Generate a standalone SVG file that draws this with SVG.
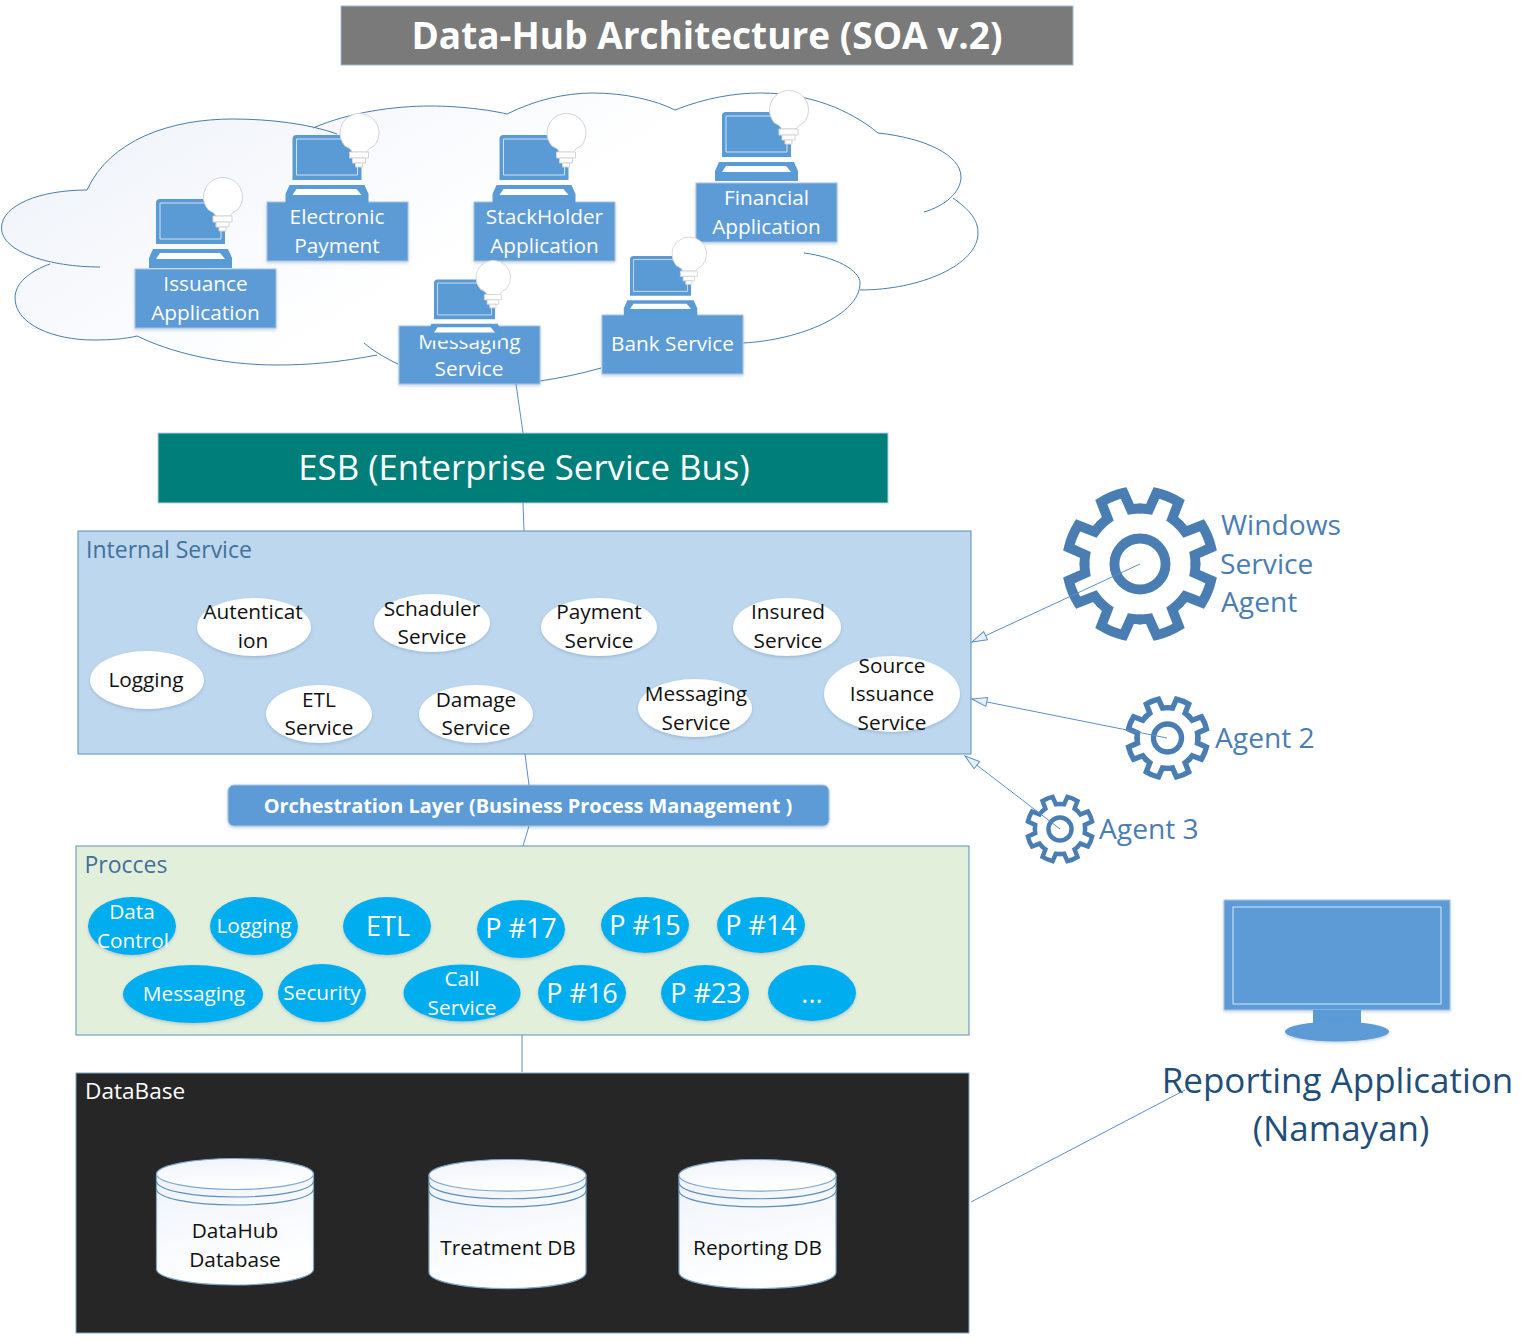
<svg xmlns="http://www.w3.org/2000/svg" xmlns:xlink="http://www.w3.org/1999/xlink" width="1539" height="1341" viewBox="0 0 1539 1341">
<style>
text{font-family:"Open Sans","Noto Sans","Liberation Sans",sans-serif;text-anchor:middle}
.w{fill:#fff;font-size:20.800px}
.k{fill:#111;font-size:20.800px}
.cw{fill:#fff;font-size:20.800px}
.big{fill:#fff;font-size:27px}
.lab{fill:#41719c;font-size:23px;text-anchor:start}
.agent{fill:#4a7eb2;font-size:28.200px;text-anchor:start}
.box{fill:#5b9bd5;stroke:#a9c5e2;stroke-width:1}
.wh{fill:#fff;filter:url(#sh)}
.blue{fill:#00aeef;filter:url(#sh)}
.cloud{fill:none;stroke:#4a7ea8;stroke-width:1}
.conn{fill:none;stroke:#5b8fc4;stroke-width:1}
.gearline{fill:none;stroke:#4a7eb2;stroke-linecap:round;stroke-linejoin:miter;stroke-width:13.500}
.cyl{fill:url(#cy);stroke:#7fa7cc;stroke-width:1.2}
.cl{fill:none;stroke:#5d8fb8;stroke-width:1.2}
</style>
<defs>
<linearGradient id="cg" x1="0" y1="0" x2="1" y2="0.5"><stop offset="0" stop-color="#ecf1f9"/><stop offset="0.6" stop-color="#fff"/></linearGradient>
<linearGradient id="cy" x1="0" y1="0" x2="0.3" y2="1"><stop offset="0" stop-color="#eef3fa"/><stop offset="1" stop-color="#fff"/></linearGradient>
<filter id="sh" x="-10%" y="-10%" width="120%" height="125%"><feDropShadow dx="0" dy="1.5" stdDeviation="1.5" flood-color="#5b7fa8" flood-opacity="0.35"/></filter>
<marker id="arr" markerUnits="userSpaceOnUse" markerWidth="18" markerHeight="12" refX="16" refY="6" orient="auto"><path d="M1 1.500 L16 6 L1 10.500 Z" fill="#e8f1fa" stroke="#5b8fc4" stroke-width="1"/></marker>
<g id="laptop">
<path d="M0 4Q0 0 4 0H69V45H0Z" fill="#5b9bd5"/>
<path d="M4 4H65V40H4Z" fill="none" stroke="#cfe2f3" stroke-width="1"/>
<path d="M-3 50H72L76 59V69H-7V59Z" fill="#5b9bd5"/>
<path d="M4 54H64L69 60H0Z" fill="#fff"/>
<g fill="#fff" stroke="#d4d4d4" stroke-width="1">
<path d="M60 17H74Q76 13 81.500 11A19.500 19.500 0 1 0 52.500 11Q58 13 60 17Z"/>
<path d="M57 17H76V23H57Z"/>
<path d="M60 23H73V28H60Z"/>
<path d="M63 28H70V32H63Z"/>
</g>
</g>
<g id="sector"><path d="M76 0A76 76 0 0 1 74.96 12.54L97.44 22.5A100 100 0 0 1 84.8 52.99L61.87 44.13A76 76 0 0 1 53.74 53.74"/></g>
<g id="gear" class="gearline">
<use xlink:href="#sector"/><use xlink:href="#sector" transform="rotate(45)"/><use xlink:href="#sector" transform="rotate(90)"/><use xlink:href="#sector" transform="rotate(135)"/><use xlink:href="#sector" transform="rotate(180)"/><use xlink:href="#sector" transform="rotate(225)"/><use xlink:href="#sector" transform="rotate(270)"/><use xlink:href="#sector" transform="rotate(315)"/>
<circle r="35"/>
</g>
<g id="cylhead">
<path class="cyl" d="M-78.500 15V110C-78.500 119 -44 126 0 126S78.500 119 78.500 110V15Z"/>
<ellipse class="cyl" cx="0" cy="15" rx="78.500" ry="15.500"/>
<path class="cl" d="M-78.500 22C-78.500 31 -44 38 0 38S78.500 31 78.500 22M-78.500 30C-78.500 39 -44 46 0 46S78.500 39 78.500 30"/>
</g>
</defs>

<rect width="1539" height="1341" fill="#fff"/>

<g id="cloud">
<path fill="url(#cg)" d="M87 190C110 140 170 119 233 119C270 119 300 122 313 128C350 112 395 106 430 106C460 106 490 110 507 114C535 100 565 93 593 93C625 93 655 100 675 110C705 98 735 93 760 93C810 93 850 110 878 133C925 138 960 150 960 177C960 185 958 192 953 198C970 210 977 220 977 233C977 265 920 290 860 290C840 325 790 340 743 343L600 368L540 381L398 364L377 355C340 362 310 365 277 365C220 365 170 352 137 336C120 339 105 340 93 340C45 340 15 325 15 298C15 283 30 272 50 264C20 257 1.500 245 1.500 228C1.500 205 40 190 87 190Z"/>
<path class="cloud" d="M87 190C110 140 170 119 233 119C270 119 310 124 337 134"/>
<path class="cloud" d="M87 190C40 190 1.500 205 1.500 228C1.500 252 50 267 100 267"/>
<path class="cloud" d="M50 264C30 271 15 283 15 298C15 325 55 340 93 340C110 340 125 339 137 336C170 352 220 365 277 365C320 365 350 360 377 355"/>
<path class="cloud" d="M364 343C372 350 385 358 398 364"/>
<path class="cloud" d="M313 128C350 112 395 106 430 106C460 106 490 110 507 114C535 100 565 93 593 93C625 93 655 100 675 110C705 98 735 93 760 93C810 93 850 110 878 133"/>
<path class="cloud" d="M878 133C925 138 961 155 961 177C961 192 945 206 924 212"/>
<path class="cloud" d="M953 198C970 210 978 220 978 233C978 265 920 290 860 290"/>
<path class="cloud" d="M804 253C835 257 860 270 860 283C860 315 800 340 743 343"/>
<path class="cloud" d="M601 368C580 374 560 378 540 381"/>
</g>

<g id="title"><rect x="341" y="6" width="732" height="59" fill="#7a7a7a" stroke="#9dbad8"/><text x="707" y="49" fill="#fff" font-size="37px" style="font-weight:700">Data-Hub Architecture (SOA v.2)</text></g>

<g id="issuance"><rect class="box" x="135" y="269" width="141" height="59" filter="url(#sh)"/><text class="w" x="205.500" y="291">Issuance</text><text class="w" x="205.500" y="320">Application</text><use xlink:href="#laptop" x="156" y="199"/></g>
<g id="electronic"><rect class="box" x="267" y="202" width="141" height="59" filter="url(#sh)"/><text class="w" x="337" y="224">Electronic</text><text class="w" x="337" y="253">Payment</text><use xlink:href="#laptop" x="292.500" y="135"/></g>
<g id="stackholder"><rect class="box" x="474" y="202" width="141" height="59" filter="url(#sh)"/><text class="w" x="544.500" y="224">StackHolder</text><text class="w" x="544.500" y="253">Application</text><use xlink:href="#laptop" x="499.500" y="135"/></g>
<g id="financial"><rect class="box" x="696" y="183" width="141" height="59" filter="url(#sh)"/><text class="w" x="766.500" y="205">Financial</text><text class="w" x="766.500" y="234">Application</text><use xlink:href="#laptop" x="722" y="112"/></g>
<g id="messaging-service"><rect class="box" x="399" y="326" width="141" height="58" filter="url(#sh)"/><text class="w" x="469.500" y="349">Messaging</text><text class="w" x="469" y="376">Service</text><use xlink:href="#laptop" transform="translate(434 279.500) scale(.885)"/></g>
<g id="bank"><rect class="box" x="602" y="315" width="141" height="59" filter="url(#sh)"/><text class="w" x="672.500" y="351">Bank Service</text><use xlink:href="#laptop" transform="translate(630 256) scale(.885)"/></g>

<g id="esb"><rect x="158" y="433" width="730" height="70" fill="#007e7a" stroke="#b7d0e6"/><text x="524" y="480" fill="#fff" font-size="34.800px">ESB (Enterprise Service Bus)</text></g>

<g id="internal-service"><rect x="78" y="531" width="893" height="223" fill="#bdd7ee" stroke="#5b8fb8"/><text class="lab" x="86" y="558">Internal Service</text></g>
<g id="logging-i"><ellipse class="wh" cx="147" cy="680" rx="57" ry="29"/><text class="k" x="146" y="687">Logging</text></g>
<g id="autenticat"><ellipse class="wh" cx="254" cy="627" rx="57" ry="29"/><text class="k" x="253" y="619">Autenticat</text><text class="k" x="253" y="648">ion</text></g>
<g id="schaduler"><ellipse class="wh" cx="432" cy="623" rx="58" ry="29"/><text class="k" x="432" y="616">Schaduler</text><text class="k" x="432" y="644">Service</text></g>
<g id="payment"><ellipse class="wh" cx="599" cy="627" rx="58" ry="29"/><text class="k" x="599" y="619">Payment</text><text class="k" x="599" y="648">Service</text></g>
<g id="insured"><ellipse class="wh" cx="787" cy="627" rx="54" ry="29"/><text class="k" x="788" y="619">Insured</text><text class="k" x="788" y="648">Service</text></g>
<g id="etl-i"><ellipse class="wh" cx="319" cy="714" rx="53" ry="29"/><text class="k" x="319" y="707">ETL</text><text class="k" x="319" y="735">Service</text></g>
<g id="damage"><ellipse class="wh" cx="476" cy="714" rx="57" ry="29"/><text class="k" x="476" y="707">Damage</text><text class="k" x="476" y="735">Service</text></g>
<g id="messaging-i"><ellipse class="wh" cx="695" cy="708" rx="57" ry="29"/><text class="k" x="696" y="701">Messaging</text><text class="k" x="696" y="730">Service</text></g>
<g id="source"><ellipse class="wh" cx="892" cy="694" rx="68" ry="38"/><text class="k" x="892" y="673">Source</text><text class="k" x="892" y="701">Issuance</text><text class="k" x="892" y="730">Service</text></g>

<g id="orchestration"><rect x="228" y="785" width="601" height="41" rx="6" fill="#5b9bd5" stroke="#a9c5e2" filter="url(#sh)"/><text x="528" y="813" fill="#fff" font-size="19.900px" style="font-weight:700">Orchestration Layer (Business Process Management )</text></g>

<g id="procces"><rect x="76" y="846" width="893" height="189" fill="#e2efda" stroke="#5b8fb8"/><text class="lab" x="84.500" y="873">Procces</text></g>
<g id="p-data"><ellipse class="blue" cx="132" cy="926" rx="44" ry="29"/><text class="cw" x="132" y="919">Data</text><text class="cw" x="133" y="948">Control</text></g>
<g id="p-logging"><ellipse class="blue" cx="254" cy="926" rx="44" ry="29"/><text class="cw" x="254" y="933">Logging</text></g>
<g id="p-etl"><ellipse class="blue" cx="387" cy="926" rx="44" ry="29"/><text class="big" x="388" y="936">ETL</text></g>
<g id="p-17"><ellipse class="blue" cx="521" cy="929" rx="44" ry="29"/><text class="big" x="521" y="938">P #17</text></g>
<g id="p-15"><ellipse class="blue" cx="645" cy="925" rx="44" ry="28"/><text class="big" x="645" y="935">P #15</text></g>
<g id="p-14"><ellipse class="blue" cx="761" cy="925" rx="44" ry="28"/><text class="big" x="761" y="935">P #14</text></g>
<g id="p-messaging"><ellipse class="blue" cx="193" cy="994" rx="70" ry="29"/><text class="cw" x="194" y="1001">Messaging</text></g>
<g id="p-security"><ellipse class="blue" cx="322" cy="993" rx="44" ry="29"/><text class="cw" x="322" y="1000">Security</text></g>
<g id="p-call"><ellipse class="blue" cx="462" cy="993" rx="58.500" ry="28.500"/><text class="cw" x="462" y="986">Call</text><text class="cw" x="462" y="1015">Service</text></g>
<g id="p-16"><ellipse class="blue" cx="582" cy="993" rx="44" ry="28"/><text class="big" x="582" y="1003">P #16</text></g>
<g id="p-23"><ellipse class="blue" cx="705" cy="993" rx="44" ry="28"/><text class="big" x="706" y="1003">P #23</text></g>
<g id="p-more"><ellipse class="blue" cx="812" cy="993" rx="44" ry="28"/><text class="big" x="812" y="1003">...</text></g>

<g id="database"><rect x="76" y="1073" width="893" height="260" fill="#262626" stroke="#7fa3c7"/><text x="85" y="1099" fill="#fff" font-size="22.600px" style="text-anchor:start">DataBase</text></g>
<g id="db-hub"><use xlink:href="#cylhead" x="235" y="1159"/><text class="k" x="235" y="1238">DataHub</text><text class="k" x="235" y="1267">Database</text></g>
<g id="db-treat"><use xlink:href="#cylhead" transform="translate(507.500 1160) scale(1 1.02)"/><text class="k" x="508" y="1255">Treatment DB</text></g>
<g id="db-report"><use xlink:href="#cylhead" transform="translate(757.500 1160) scale(1 1.02)"/><text class="k" x="757.500" y="1255">Reporting DB</text></g>

<g id="agent1"><use xlink:href="#gear" transform="translate(1140 564) scale(.73)"/><text class="agent" x="1221" y="535">Windows</text><text class="agent" x="1220" y="574">Service</text><text class="agent" x="1221" y="612">Agent</text></g>
<g id="agent2"><use xlink:href="#gear" transform="translate(1167.500 738) scale(.4)"/><text class="agent" x="1215" y="748">Agent 2</text></g>
<g id="agent3"><use xlink:href="#gear" transform="translate(1060 829) scale(.33)"/><text class="agent" x="1099" y="839">Agent 3</text></g>

<g id="reporting-app">
<rect x="1224" y="900" width="226" height="110" fill="#5b9bd5" stroke="#a9c5e2" filter="url(#sh)"/>
<rect x="1233" y="907" width="208" height="97" fill="none" stroke="#d5e6f5"/>
<path d="M1313 1010H1361V1025H1313Z" fill="#5b9bd5"/>
<ellipse cx="1337" cy="1031.500" rx="52" ry="10" fill="#5b9bd5" filter="url(#sh)"/>
<text x="1337.500" y="1093" fill="#1f4e79" font-size="35px">Reporting Application</text>
<text x="1341" y="1141" fill="#1f4e79" font-size="35px">(Namayan)</text>
</g>

<g id="connectors">
<path class="conn" d="M516 384L523 433"/>
<path class="conn" d="M523 503L524 531"/>
<path class="conn" d="M525 754L529 785"/>
<path class="conn" d="M529 826L523 846"/>
<path class="conn" d="M522 1035V1072"/>
<path class="conn" d="M1140 564L972 642" marker-end="url(#arr)"/>
<path class="conn" d="M1167 738L972 699" marker-end="url(#arr)"/>
<path class="conn" d="M1060 829L965 756" marker-end="url(#arr)"/>
<path class="conn" d="M971 1202L1185 1090"/>
</g>
</svg>
